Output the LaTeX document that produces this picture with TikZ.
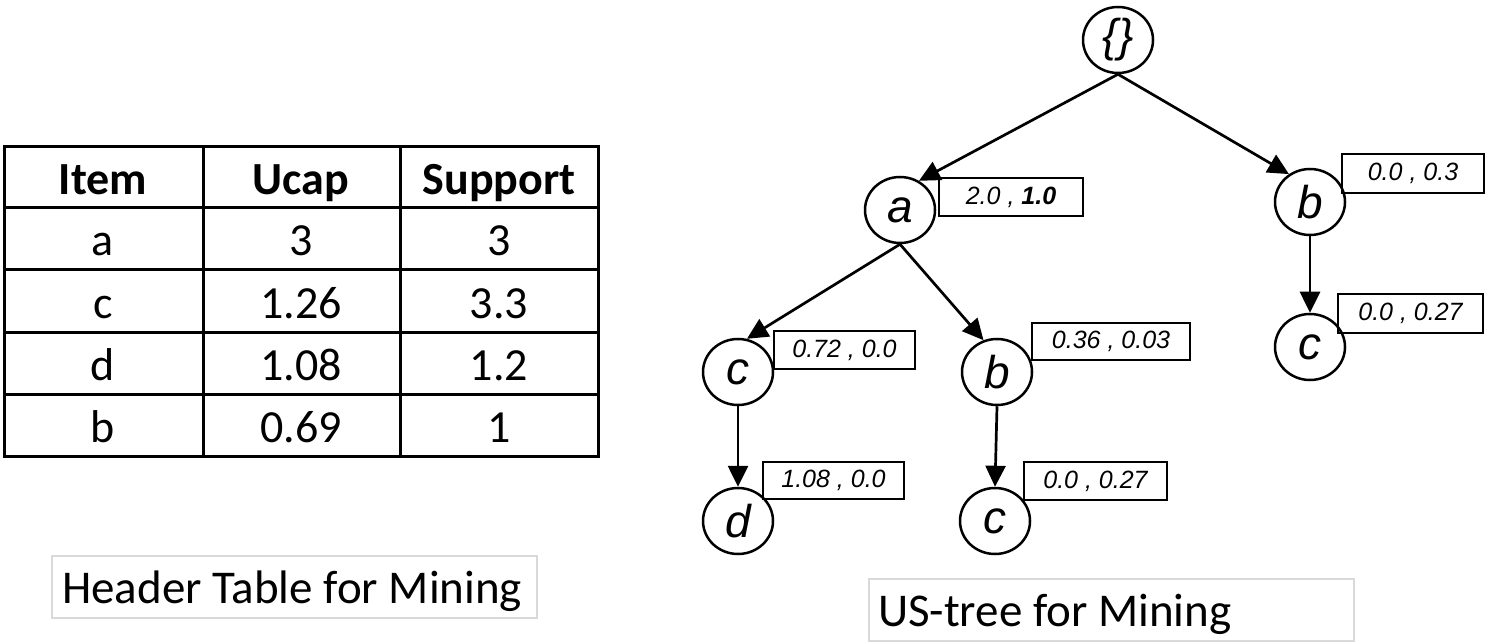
\documentclass[tikz,border=0pt]{standalone}
\usepackage{fontspec}
\setmainfont{Carlito}
\newfontfamily\arialf{Liberation Sans}
\usetikzlibrary{shapes.geometric,arrows.meta}
\tikzset{
  treenode/.style={ellipse, draw, line width=2.5pt, minimum width=70pt, minimum height=66pt, inner sep=0pt, font=\arialf\itshape\fontsize{46}{50}\selectfont},
  lbl/.style={rectangle, draw, line width=2pt, anchor=north west, inner sep=0pt, font=\arialf\itshape\fontsize{25}{28}\selectfont},
  edge/.style={line width=2.7pt, -{Triangle[length=21pt,width=20pt]}},
  cell/.style={font=\fontsize{46}{50}\selectfont, inner sep=0pt, anchor=base},
  hcell/.style={cell, font=\bfseries\fontsize{46}{50}\selectfont},
  capbox/.style={rectangle, draw=black!15, line width=2pt, anchor=north west, inner sep=0pt},
  captext/.style={anchor=base west, inner sep=0pt, font=\fontsize{47}{50}\selectfont}
}
\begin{document}
\begin{tikzpicture}[x=1pt,y=-1pt]
\useasboundingbox (0,0) rectangle (1488,644);
% header table
\draw[line width=3pt] (4,147) rectangle (598,456);
\draw[line width=3pt] (203,147) -- (203,456) (400,147) -- (400,456)
  (4,208) -- (598,208) (4,270) -- (598,270) (4,332) -- (598,332) (4,394) -- (598,394);
\node[hcell] (h1) at (103,195) {Item};
\node[hcell] (h2) at (301,195) {Ucap};
\node[hcell] (h3) at (499,195) {Support};
\node[cell] (r1a) at (103,256) {a};
\node[cell] (r1b) at (301,256) {3};
\node[cell] (r1c) at (499,256) {3};
\node[cell] (r2a) at (103,318) {c};
\node[cell] (r2b) at (301,318) {1.26};
\node[cell] (r2c) at (499,318) {3.3};
\node[cell] (r3a) at (103,380) {d};
\node[cell] (r3b) at (301,380) {1.08};
\node[cell] (r3c) at (499,380) {1.2};
\node[cell] (r4a) at (103,442) {b};
\node[cell] (r4b) at (301,442) {0.69};
\node[cell] (r4c) at (499,442) {1};
% captions
\node[capbox, minimum width=485pt, minimum height=62pt] (cap1) at (51,555) {};
\node[captext] (cap1t) at (62,603) {Header Table for Mining};
\node[capbox, minimum width=485pt, minimum height=62pt] (cap2) at (868,578) {};
\node[captext] (cap2t) at (878,626) {US-tree for Mining};
% tree nodes
\node[treenode] (root) at (1118,40) {\{\}};
\node[treenode] (a) at (900,210) {a};
\node[treenode] (b1) at (1310,202) {b};
\node[treenode] (c3) at (1310,347) {c};
\node[treenode] (c1) at (738,372) {c};
\node[treenode] (b2) at (997,372) {b};
\node[treenode] (d) at (738,521) {d};
\node[treenode] (c2) at (995,521) {c};
% labels
\node[lbl, minimum width=144pt, minimum height=38pt] (la) at (938,177) {2.0 , \textbf{1.0}};
\node[lbl, minimum width=142pt, minimum height=39pt] (lb1) at (1341,153) {0.0 , 0.3};
\node[lbl, minimum width=145pt, minimum height=39pt] (lc3) at (1337,293) {0.0 , 0.27};
\node[lbl, minimum width=141pt, minimum height=38pt] (lc1) at (773,330) {0.72 , 0.0};
\node[lbl, minimum width=158pt, minimum height=37pt] (lb2) at (1031,322) {0.36 , 0.03};
\node[lbl, minimum width=141pt, minimum height=37pt] (ld) at (762,461) {1.08 , 0.0};
\node[lbl, minimum width=143pt, minimum height=38pt] (lc2) at (1023,461) {0.0 , 0.27};
% edges
\draw[edge] (root.south) -- (a.57);
\draw[edge] (root.south) -- (b1.127);
\draw[edge] (a.south) -- (c1.75);
\draw[edge] (a.south) -- (b2.113);
\draw[edge] (c1.south) -- (d.north);
\draw[edge] (b2.south) -- (c2.north);
\draw[edge] (b1.south) -- (c3.north);
\end{tikzpicture}
\end{document}
